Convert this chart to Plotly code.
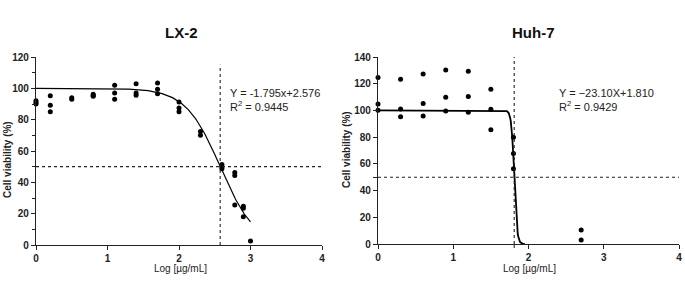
import numpy as np
import plotly.graph_objects as go

# ---- data: LX-2 ----
lx_x = [0, 0, 0, 0.2, 0.2, 0.2, 0.5, 0.5, 0.8, 0.8, 0.8,
        1.1, 1.1, 1.1, 1.4, 1.4, 1.4, 1.7, 1.7, 1.7,
        2.0, 2.0, 2.0, 2.3, 2.3, 2.6, 2.6, 2.6,
        2.78, 2.78, 2.78, 2.9, 2.9, 2.9, 3.0]
lx_y = [92, 91, 90, 95.2, 89.2, 85, 94, 93, 96.2, 95.4, 95,
        102, 97, 93, 103, 97, 95.6, 103.4, 99.4, 96.6,
        91.3, 87.5, 85, 72.4, 70, 51.4, 50, 48.6,
        46.3, 44.4, 25.5, 24.8, 23.4, 18, 2.5]
lx_logic50 = 2.576
lx_hill = 1.795

# ---- data: Huh-7 ----
huh_x = [0, 0, 0, 0.3, 0.3, 0.3, 0.6, 0.6, 0.6, 0.9, 0.9, 0.9,
         1.2, 1.2, 1.2, 1.5, 1.5, 1.5, 1.8, 1.8, 1.8, 2.7, 2.7]
huh_y = [124.6, 104.9, 100.1, 123.3, 101.1, 95.2, 127.3, 105.1, 95.9,
         130.3, 109.9, 99.6, 129.3, 110.4, 98.7, 115.8, 100.9, 85.5,
         80, 67.8, 56.3, 10.5, 3]
huh_logic50 = 1.810
huh_hill = 23.10

x_ticks = [0, 1, 2, 3, 4]
x_ticktext = ["0", "1", "2", "3", "4"]
lx_yticks = [0, 20, 40, 60, 80, 100, 120]
huh_yticks = [0, 20, 40, 60, 80, 100, 120, 140]


def fourpl(x, logic50, hill):
    x = np.asarray(x)
    return 100.0 / (1.0 + 10 ** ((x - logic50) * hill))


W, H = 685, 281
fig = go.Figure()

lx_cx = np.linspace(0, 3, 200)
fig.add_trace(go.Scatter(x=lx_cx, y=fourpl(lx_cx, lx_logic50, lx_hill), mode="lines",
                         line=dict(color="black", width=1.2), xaxis="x", yaxis="y",
                         hoverinfo="skip", showlegend=False))
fig.add_trace(go.Scatter(x=lx_x, y=lx_y, mode="markers",
                         marker=dict(color="black", size=5), xaxis="x", yaxis="y",
                         cliponaxis=False, showlegend=False))

huh_cx = np.linspace(0, 1.95, 400)
fig.add_trace(go.Scatter(x=huh_cx, y=fourpl(huh_cx, huh_logic50, huh_hill), mode="lines",
                         line=dict(color="black", width=1.8), xaxis="x2", yaxis="y2",
                         hoverinfo="skip", showlegend=False))
fig.add_trace(go.Scatter(x=huh_x, y=huh_y, mode="markers",
                         marker=dict(color="black", size=5), xaxis="x2", yaxis="y2",
                         cliponaxis=False, showlegend=False))

tickfont = dict(family="Liberation Sans, Arial", size=10, color="#222", weight="bold")
axcommon = dict(showgrid=False, zeroline=False, showline=True, linecolor="#222",
                linewidth=1.3, ticks="outside", ticklen=4, tickwidth=1.2,
                tickcolor="#222", tickfont=tickfont, automargin=False,
                ticklabeloverflow="allow")


def px(v):
    return v / W


def py(v):
    return 1 - v / H


fig.update_layout(
    width=W, height=H, margin=dict(l=0, r=0, t=0, b=0),
    paper_bgcolor="white", plot_bgcolor="white",
    xaxis=dict(domain=[px(36), px(322)], range=[0, 4], tickvals=x_ticks,
               ticktext=x_ticktext, anchor="y", **axcommon),
    yaxis=dict(domain=[py(245), py(57)], range=[0, 120], tickvals=lx_yticks,
               anchor="x", minor=dict(dtick=10, ticks="outside", ticklen=2.5,
                                      tickcolor="#222", tickwidth=1), **axcommon),
    xaxis2=dict(domain=[px(378), px(679)], range=[0, 4], tickvals=x_ticks,
                ticktext=x_ticktext, anchor="y2", **axcommon),
    yaxis2=dict(domain=[py(244), py(57)], range=[0, 140], tickvals=huh_yticks,
                anchor="x2", minor=dict(tickvals=[50], ticks="outside", ticklen=4,
                                        tickcolor="#222", tickwidth=1), **axcommon),
)

dot = dict(color="#222", width=1.1, dash="dot")
fig.add_shape(type="line", xref="x", yref="y", x0=0, x1=4, y0=50, y1=50, line=dot)
fig.add_shape(type="line", xref="x", yref="y", x0=lx_logic50, x1=lx_logic50, y0=0, y1=115, line=dot)
fig.add_shape(type="line", xref="x2", yref="y2", x0=0, x1=4, y0=50, y1=50, line=dot)
fig.add_shape(type="line", xref="x2", yref="y2", x0=huh_logic50, x1=huh_logic50, y0=0, y1=140, line=dot)
# small tick where the IC50 line meets the Huh-7 x axis
fig.add_shape(type="line", xref="x2", yref="paper", x0=huh_logic50, x1=huh_logic50,
              y0=py(244), y1=py(248), line=dict(color="#222", width=1))

txt = dict(family="Liberation Sans, Arial", size=11, color="#222")
titlef = dict(family="Liberation Sans, Arial", size=15, color="#111", weight="bold")
axtf = dict(family="Liberation Sans, Arial", size=10, color="#222", weight="bold")
xtf = dict(family="Liberation Sans, Arial", size=10, color="#222")

anns = [
    dict(x=px(181), y=py(33), text="LX-2", font=titlef),
    dict(x=px(533), y=py(33), text="Huh-7", font=titlef),
    dict(x=px(228), y=py(93), text="Y = -1.795x+2.576", font=txt, xanchor="left"),
    dict(x=px(228), y=py(106), text="R<sup>2</sup> = 0.9445", font=txt, xanchor="left"),
    dict(x=px(557), y=py(93), text="Y = \u221223.10X+1.810", font=txt, xanchor="left"),
    dict(x=px(557), y=py(106), text="R<sup>2</sup> = 0.9429", font=txt, xanchor="left"),
    dict(x=px(180), y=py(268), text="Log [\u00b5g/mL]", font=xtf),
    dict(x=px(529), y=py(268), text="Log [\u00b5g/mL]", font=xtf),
    dict(x=px(7), y=py(160), text="Cell viability (%)", font=axtf, textangle=-90),
    dict(x=px(347), y=py(150), text="Cell viability (%)", font=axtf, textangle=-90),
]
for a in anns:
    a.setdefault("xanchor", "center")
    fig.add_annotation(xref="paper", yref="paper", showarrow=False, yanchor="middle", **a)

fig.write_html("out.html",
               config={"displayModeBar": False},
               post_script="document.body.style.margin='0px';"
                           "document.body.style.padding='0px';"
                           "document.body.style.overflow='hidden';")
